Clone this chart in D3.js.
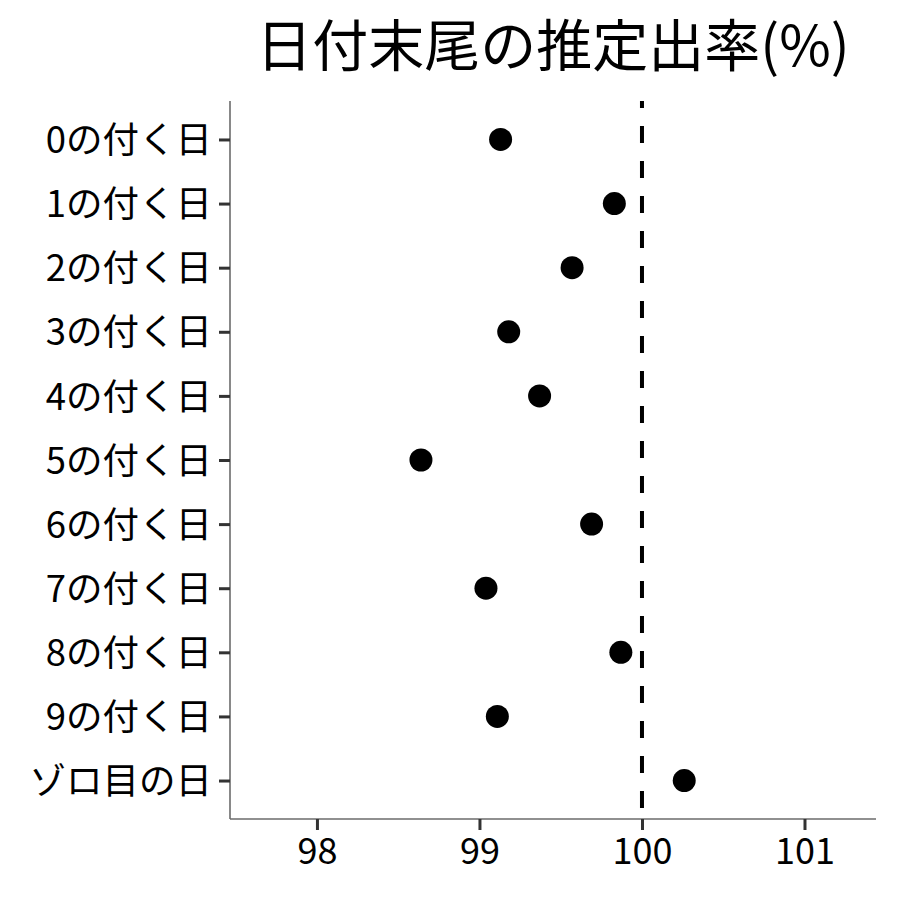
<!DOCTYPE html>
<html>
<head>
<meta charset="utf-8">
<script src="https://cdn.jsdelivr.net/npm/d3@7"></script>
<style>
  body { margin: 0; background: #fff; }
  text { font-family: "Noto Sans CJK JP", "Noto Sans", sans-serif; }
</style>
</head>
<body>
<div id="adiv"></div>
<script>
// categories top to bottom
var labels = ["0の付く日", "1の付く日", "2の付く日", "3の付く日", "4の付く日",
              "5の付く日", "6の付く日", "7の付く日", "8の付く日", "9の付く日", "ゾロ目の日"];
var rates = [99.13, 99.83, 99.57, 99.18, 99.37, 98.64, 99.69, 99.04, 99.87, 99.11, 100.26];
var xTicks = [98, 99, 100, 101];
var refValue = 100;
var title = "日付末尾の推定出率(%)";

var width = 900, height = 900;
var margin = {top: 101, right: 24, bottom: 81, left: 230};

var svg = d3.select("#adiv")
  .append("svg")
    .attr("width", width)
    .attr("height", height);

var x = d3.scaleLinear()
  .domain([97.465, 101.44])
  .range([margin.left, width - margin.right]);

var y = d3.scalePoint()
  .domain(labels)
  .range([margin.top, height - margin.bottom])
  .padding(0.6);

// x axis
var xAxis = svg.append("g")
  .attr("transform", "translate(0," + (height - margin.bottom) + ")")
  .call(d3.axisBottom(x).tickValues(xTicks).tickSize(11).tickPadding(8).tickFormat(d3.format("d")));
xAxis.select(".domain").attr("stroke", "#6b6b6b").attr("stroke-width", 1.6).attr("d", "M" + margin.left + ",0H" + (width - margin.right));
xAxis.selectAll(".tick line").attr("stroke", "#333").attr("stroke-width", 3);
xAxis.selectAll(".tick text").attr("fill", "#000").style("font-size", "36px");

// y axis
var yAxis = svg.append("g")
  .attr("transform", "translate(" + margin.left + ",0)")
  .call(d3.axisLeft(y).tickSize(11).tickPadding(7));
yAxis.select(".domain").attr("stroke", "#6b6b6b").attr("stroke-width", 1.6).attr("d", "M0," + margin.top + "V" + (height - margin.bottom));
yAxis.selectAll(".tick line").attr("stroke", "#333").attr("stroke-width", 3);
yAxis.selectAll(".tick text").attr("fill", "#000").style("font-size", "36.5px").attr("dy", "0.36em");

// reference line
svg.append("line")
  .attr("x1", x(refValue)).attr("x2", x(refValue))
  .attr("y1", margin.top).attr("y2", height - margin.bottom)
  .attr("stroke", "#000")
  .attr("stroke-width", 4)
  .attr("stroke-dasharray", "17,18")
  .attr("stroke-dashoffset", 10);

// points
svg.selectAll("circle.pt")
  .data(rates)
  .enter()
  .append("circle")
    .attr("class", "pt")
    .attr("cx", function(d){ return x(d); })
    .attr("cy", function(d, i){ return y(labels[i]); })
    .attr("r", 11.5)
    .attr("fill", "#000");

// title
svg.append("text")
  .attr("x", (margin.left + width - margin.right) / 2)
  .attr("y", 66)
  .attr("text-anchor", "middle")
  .style("font-size", "56px")
  .attr("fill", "#000")
  .text(title);
</script>
</body>
</html>
